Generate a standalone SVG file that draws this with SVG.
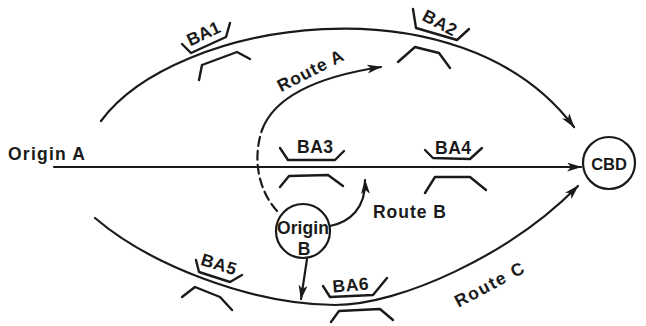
<svg xmlns="http://www.w3.org/2000/svg" width="646" height="326" viewBox="0 0 646 326">
  <style>
    .route { fill: none; stroke: #1a1a1a; stroke-width: 2.2; stroke-linecap: round; }
    .dash { stroke-dasharray: 9 5; }
    .ba { fill: none; stroke: #1a1a1a; stroke-width: 2.4; stroke-linecap: round; stroke-linejoin: round; }
    .node { fill: #fff; stroke: #1a1a1a; stroke-width: 2.2; }
    text { font-family: "Liberation Sans", Arial, sans-serif; font-size: 17.5px; font-weight: bold; fill: #1a1a1a; }
    .mid { text-anchor: middle; }
    .small { font-size: 16.5px; }
  </style>
  <defs>
    <marker id="arrow" viewBox="0 0 15 9" refX="14" refY="4.5" markerWidth="15" markerHeight="9" markerUnits="userSpaceOnUse" orient="auto">
      <path d="M0,0 L15,4.5 L0,9 L4,4.5 z" fill="#1a1a1a"/>
    </marker>
  </defs>

  <rect width="646" height="326" fill="#fff"/>

  <!-- connectors: the three routes and their branches -->
  <g id="connectors">
    <path id="route-top" class="route" d="M101,121 C175,20 460,-25 574,127" marker-end="url(#arrow)"/>
    <path id="route-origin-a" class="route" d="M54,167 L581,167" marker-end="url(#arrow)"/>
    <path id="route-c" class="route" d="M95,218 C150,265 250,304 335,305 C400,305 510,255 578,186" marker-end="url(#arrow)"/>
    <path id="route-a-dashed" class="route dash" d="M277,211 C259,191 252,160 262,130"/>
    <path id="route-a" class="route" d="M262,130 C275,95 322,76 381,67" marker-end="url(#arrow)"/>
    <path id="route-b" class="route" d="M330,226 C350,222 366,208 365,180" marker-end="url(#arrow)"/>
    <path id="origin-b-down" class="route" d="M307,259 L301,299" marker-end="url(#arrow)"/>
  </g>

  <!-- bus areas along the routes -->
  <g id="ba1">
    <polyline class="ba" points="182,44 191,53 226,37 230,23"/>
    <polyline class="ba" points="199,80 202,65 237,52 250,59"/>
    <text class="mid" transform="translate(206,39) rotate(-25)" textLength="35">BA1</text>
  </g>
  <g id="ba2">
    <polyline class="ba" points="413,9 416,28 457,40 469,29"/>
    <polyline class="ba" points="398,62 415,47 439,53 450,68"/>
    <text class="mid" transform="translate(437,28) rotate(28)" textLength="36">BA2</text>
  </g>
  <g id="ba3">
    <polyline class="ba" points="280,148 288,160 335,160 344,151"/>
    <polyline class="ba" points="280,187 289,176 328,175 343,186"/>
    <text class="mid" x="315" y="153" textLength="36">BA3</text>
  </g>
  <g id="ba4">
    <polyline class="ba" points="425,150 433,158 470,159 482,148"/>
    <polyline class="ba" points="425,193 435,177 470,177 486,190"/>
    <text class="mid" x="453" y="154" textLength="36">BA4</text>
  </g>
  <g id="ba5">
    <polyline class="ba" points="196,260 199,272 230,282 242,275"/>
    <polyline class="ba" points="182,297 195,287 220,297 232,310"/>
    <text class="mid" transform="translate(217,270) rotate(17)" textLength="36">BA5</text>
  </g>
  <g id="ba6">
    <polyline class="ba" points="323,286 330,297 373,295 387,278"/>
    <polyline class="ba" points="331,322 339,311 380,309 393,320"/>
    <text class="mid" transform="translate(351,291) rotate(-5)" textLength="36">BA6</text>
  </g>

  <!-- origins and destination -->
  <g id="origin-a">
    <text x="8" y="160" textLength="77">Origin A</text>
  </g>
  <g id="origin-b">
    <circle class="node" cx="303" cy="231" r="27"/>
    <text class="mid" x="303" y="234" textLength="52">Origin</text>
    <text class="mid" x="304" y="255">B</text>
  </g>
  <g id="cbd">
    <circle class="node" cx="609" cy="163" r="26"/>
    <text class="mid small" x="609" y="170">CBD</text>
  </g>

  <!-- route labels -->
  <g id="labels">
    <text class="mid" transform="translate(313,76) rotate(-27)" textLength="72">Route A</text>
    <text x="373" y="218" textLength="73">Route B</text>
    <text class="mid" transform="translate(492,290) rotate(-28)" textLength="76">Route C</text>
  </g>
</svg>
